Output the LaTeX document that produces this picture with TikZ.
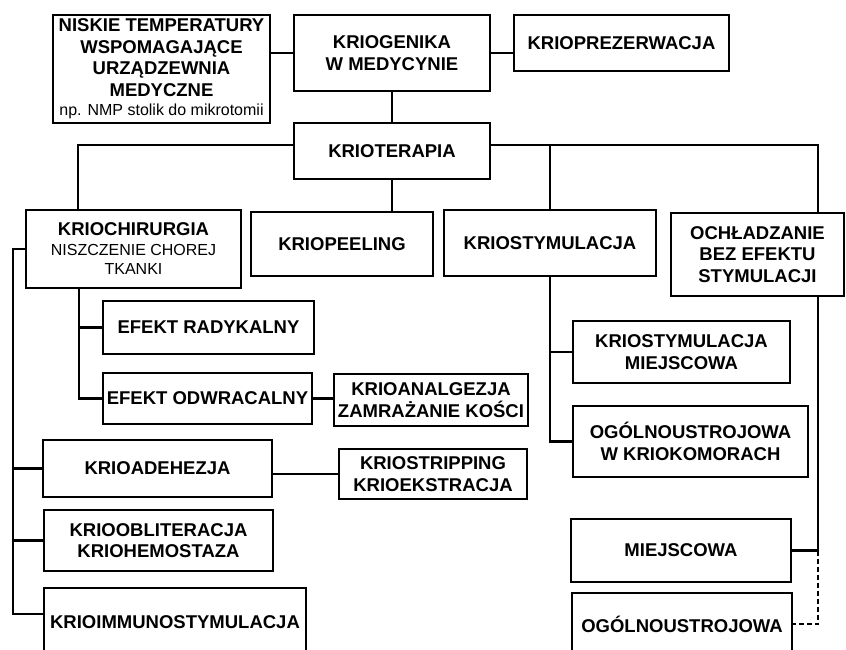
\documentclass[tikz,border=0pt]{standalone}
\usepackage{fontspec}
\setmainfont{Liberation Sans}
\newcommand{\subtxt}{\mdseries\fontsize{16}{19}\selectfont}

\tikzset{
  box/.style={draw, line width=2.4pt, align=center, inner sep=1pt,
    font=\bfseries\fontsize{18.5}{21.5}\selectfont},
  link/.style={line width=2.4pt},
  dlink/.style={line width=2.4pt, dash pattern=on 5pt off 3pt},
}

\begin{document}
\begin{tikzpicture}[x=1pt,y=-1pt]
        \useasboundingbox (0,0) rectangle (846,650);
        \clip (0,0) rectangle (846,650);

        % Draw the top row
        \node[box, minimum width=217, minimum height=108] (niskie) at (161.5,69) {NISKIE TEMPERATURY\\WSPOMAGAJĄCE\\URZĄDZEWNIA\\MEDYCZNE\\[-2pt]{\subtxt np. NMP stolik do mikrotomii}};
        \node[box, minimum width=196, minimum height=76] (kriogen) at (392,53) {KRIOGENIKA\\W MEDYCYNIE};
        \node[box, minimum width=215, minimum height=56] (kriopr) at (621.5,43) {KRIOPREZERWACJA};
        \node[box, minimum width=196, minimum height=56] (terapia) at (392,151) {KRIOTERAPIA};

        % Add the main branches
        \node[box, minimum width=215, minimum height=78] (chir) at (133.5,249) {KRIOCHIRURGIA\\[-2pt]{\subtxt NISZCZENIE CHOREJ}\\[-2pt]{\subtxt TKANKI}};
        \node[box, minimum width=182, minimum height=64] (peel) at (342,244) {KRIOPEELING};
        \node[box, minimum width=212, minimum height=66] (stym) at (550,243) {KRIOSTYMULACJA};
        \node[box, minimum width=173, minimum height=83] (ochl) at (757.5,254.5) {OCHŁADZANIE\\BEZ EFEKTU\\STYMULACJI};

        % Add the kriochirurgia boxes
        \node[box, minimum width=211, minimum height=53] (rad) at (208.5,327.5) {EFEKT RADYKALNY};
        \node[box, minimum width=209, minimum height=51] (odwr) at (207.5,398.5) {EFEKT ODWRACALNY};
        \node[box, minimum width=194, minimum height=52, inner sep=0pt] (anal) at (431,400) {KRIOANALGEZJA\\ZAMRAŻANIE KOŚCI};
        \node[box, minimum width=229, minimum height=57] (adh) at (157.5,468.5) {KRIOADEHEZJA};
        \node[box, minimum width=188, minimum height=50] (strip) at (433,474) {KRIOSTRIPPING\\KRIOEKSTRACJA};
        \node[box, minimum width=229, minimum height=61] (oblit) at (158.5,540.5) {KRIOOBLITERACJA\\KRIOHEMOSTAZA};
        \node[box, minimum width=262, minimum height=68] (immuno) at (175,622) {KRIOIMMUNOSTYMULACJA};

        % Add the right-hand boxes
        \node[box, minimum width=217, minimum height=62] (miejsc1) at (681.5,352) {KRIOSTYMULACJA\\MIEJSCOWA};
        \node[box, minimum width=235, minimum height=71] (ogol1) at (690.5,441.5) {OGÓLNOUSTROJOWA\\W KRIOKOMORACH};
        \node[box, minimum width=220, minimum height=63] (miejsc2) at (681,550.5) {MIEJSCOWA};
        \node[box, minimum width=220, minimum height=62] (ogol2) at (682,624) {OGÓLNOUSTROJOWA};

        % Bend points of the trunks
        \coordinate (busL) at (78,145);
        \coordinate (busR) at (818,145);
        \coordinate (trunkL) at (13,614);
        \coordinate (trunkC) at (79,289);

        % Draw the connectors
        \draw[link] (kriogen.west) -- (kriogen.west -| niskie.east);
        \draw[link] (kriogen.east) -- (kriogen.east -| kriopr.west);
        \draw[link] (kriogen.south) -- (terapia.north);
        \draw[link] (terapia.west |- busL) -- (busL) -- (busL |- chir.north);
        \draw[link] (terapia.east |- busR) -- (busR) -- (busR |- ochl.north);
        \draw[link] (stym.north |- busR) -- (stym.north);
        \draw[link] (terapia.south) -- (terapia.south |- peel.north);

        \draw[link] (chir.west) -| (trunkL) -- (trunkL -| immuno.west);
        \draw[link] (adh.west) -- (adh.west -| trunkL);
        \draw[link] (oblit.west) -- (oblit.west -| trunkL);
        \draw[link] (trunkC |- chir.south) |- (odwr.west);
        \draw[link] (rad.west) -- (rad.west -| trunkC);
        \draw[link] (odwr.east) -- (odwr.east -| anal.west);
        \draw[link] (strip.west) -- (strip.west -| adh.east);

        \draw[link] (stym.south) |- (ogol1.west);
        \draw[link] (miejsc1.west) -- (miejsc1.west -| stym.south);
        \draw[link] (busR |- ochl.south) |- (miejsc2.east);
        \draw[dlink] (miejsc2.east -| busR) |- (ogol2.east);
    \end{tikzpicture}
\end{document}
